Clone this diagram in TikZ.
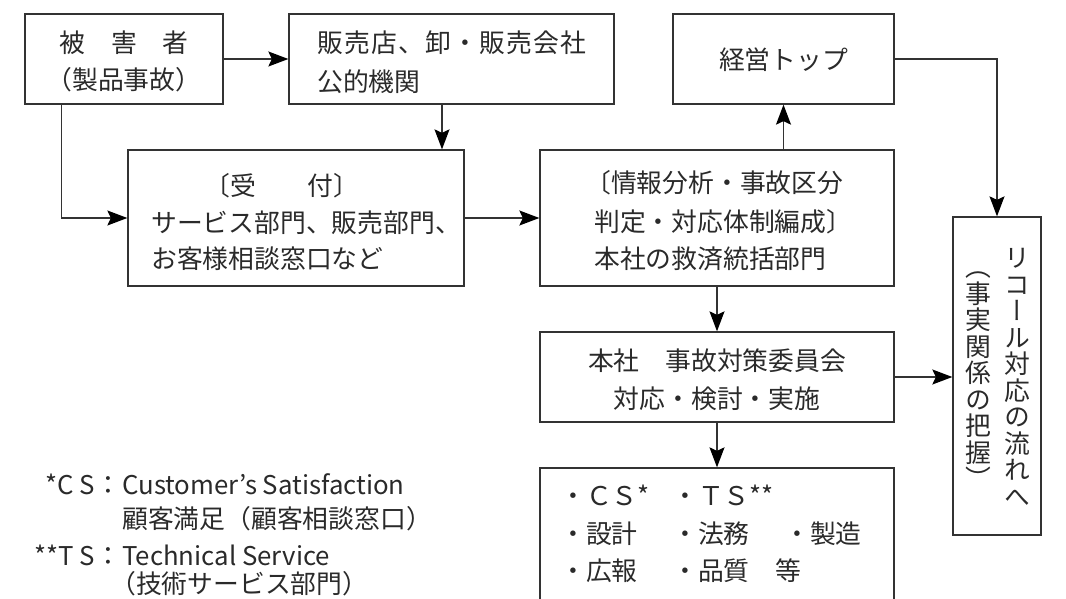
\documentclass[tikz,border=0pt]{standalone}
\usepackage{fontspec}
\setmainfont{Noto Sans CJK JP}
\newfontfamily\vjp[RawFeature=+vert]{Noto Sans CJK JP}
\usetikzlibrary{arrows.meta}
\definecolor{tc}{HTML}{2A2A2A}
\definecolor{lc}{HTML}{333333}
\tikzset{
  box/.style={draw=lc, line width=1.3pt, inner sep=0pt, fill=none},
  arr/.style={draw=lc, line width=1.3pt, -{Stealth[length=20pt,width=15pt,inset=3.5pt,color=black,fill=black]}},
  txt/.style={anchor=base west, inner sep=0pt, text=tc},
  ctxt/.style={anchor=base, inner sep=0pt, text=tc},
  etxt/.style={anchor=base east, inner sep=0pt, text=tc},
  vt/.style={anchor=base, inner sep=0pt, text=tc, font=\vjp}
}
\begin{document}
\begin{tikzpicture}[x=1pt,y=-1pt]
\fontsize{25.8}{37}\selectfont
\useasboundingbox (0,0) rectangle (1066,599);
\clip (0,0) rectangle (1066,599);
% boxes
\node[box, minimum width=198pt, minimum height=90pt] (b1) at (124,59) {};
\node[box, minimum width=325pt, minimum height=90pt] (b2) at (451.5,59) {};
\node[box, minimum width=336pt, minimum height=136pt] (b3) at (296,218) {};
\node[box, minimum width=354pt, minimum height=136pt] (b4) at (717,218) {};
\node[box, minimum width=221pt, minimum height=90pt] (b5) at (783.5,59) {};
\node[box, minimum width=88pt, minimum height=318pt] (b6) at (997,376) {};
\node[box, minimum width=354pt, minimum height=90pt] (b7) at (717,377) {};
\node[box, minimum width=354pt, minimum height=172pt] (b8) at (717,554) {};
% texts
\node[ctxt] (t1a) at (124,53) {被　害　者};
\node[ctxt] (t1b) at (124,90) {（製品事故）};
\node[txt] (t2a) at (317,53) {\addfontfeatures{LetterSpace=5}販売店、卸・販売会社};
\node[txt] (t2b) at (317,92) {公的機関};
\node[txt] (t3a) at (204,195) {〔受　　付〕};
\node[txt] (t3b) at (151,232) {サービス部門、販売部門、};
\node[txt] (t3c) at (151,268) {お客様相談窓口など};
\node[txt] (t4a) at (585,193) {〔情報分析・事故区分};
\node[txt] (t4b) at (594,231) {判定・対応体制編成〕};
\node[txt] (t4c) at (594,268) {本社の救済統括部門};
\node[ctxt] (t5) at (783.5,70) {経営トップ};
\node[ctxt] (t7a) at (717,370) {本社　事故対策委員会};
\node[ctxt] (t7b) at (717,408) {対応・検討・実施};
\node[txt] (t8a) at (560,505) {・ＣＳ*};
\node[txt] (t8b) at (672,505) {・ＴＳ**};
\node[txt] (t8c) at (560,543) {・設計};
\node[txt] (t8d) at (672,543) {・法務};
\node[txt] (t8e) at (784,543) {・製造};
\node[txt] (t8f) at (560,580) {・広報};
\node[txt] (t8g) at (672,580) {・品質　等};
% vertical texts
\foreach \c [count=\i] in {リ,コ,ー,ル,対,応,の,流,れ,へ}
  \node[vt] (vr\i) at (1017,{245+22.7+26.5*(\i-1)}) {\c};
\foreach \c [count=\i] in {（,事,実,関,係,の,把,握,）}
  \node[vt] (vl\i) at (978,{254+22.7+26.5*(\i-1)}) {\c};
% legend
\node[etxt] (l1a) at (121,494) {*C S：};
\node[txt] (l1b) at (122,494) {Customer’s Satisfaction};
\node[txt] (l2) at (122,528) {顧客満足（顧客相談窓口）};
\node[etxt] (l3a) at (121,565) {**T S：};
\node[txt] (l3b) at (122,565) {Technical Service};
\node[txt] (l4) at (110,593) {（技術サービス部門）};
% connectors
\draw[arr] (b1) -- (b2);
\draw[arr] ([xshift=37pt]b1.south west) |- (b3.west);
\draw[arr] (442,0 |- b2.south) -- (442,0 |- b3.north);
\draw[arr] (b3) -- (b4);
\draw[arr] (b5.south |- b4.north) -- (b5.south);
\draw[arr] (b5.east) -| (b6.north);
\draw[arr] (b4) -- (b7);
\draw[arr] (b7.east) -- (b7.east -| b6.west);
\draw[arr] (b7) -- (b8);
\end{tikzpicture}
\end{document}
